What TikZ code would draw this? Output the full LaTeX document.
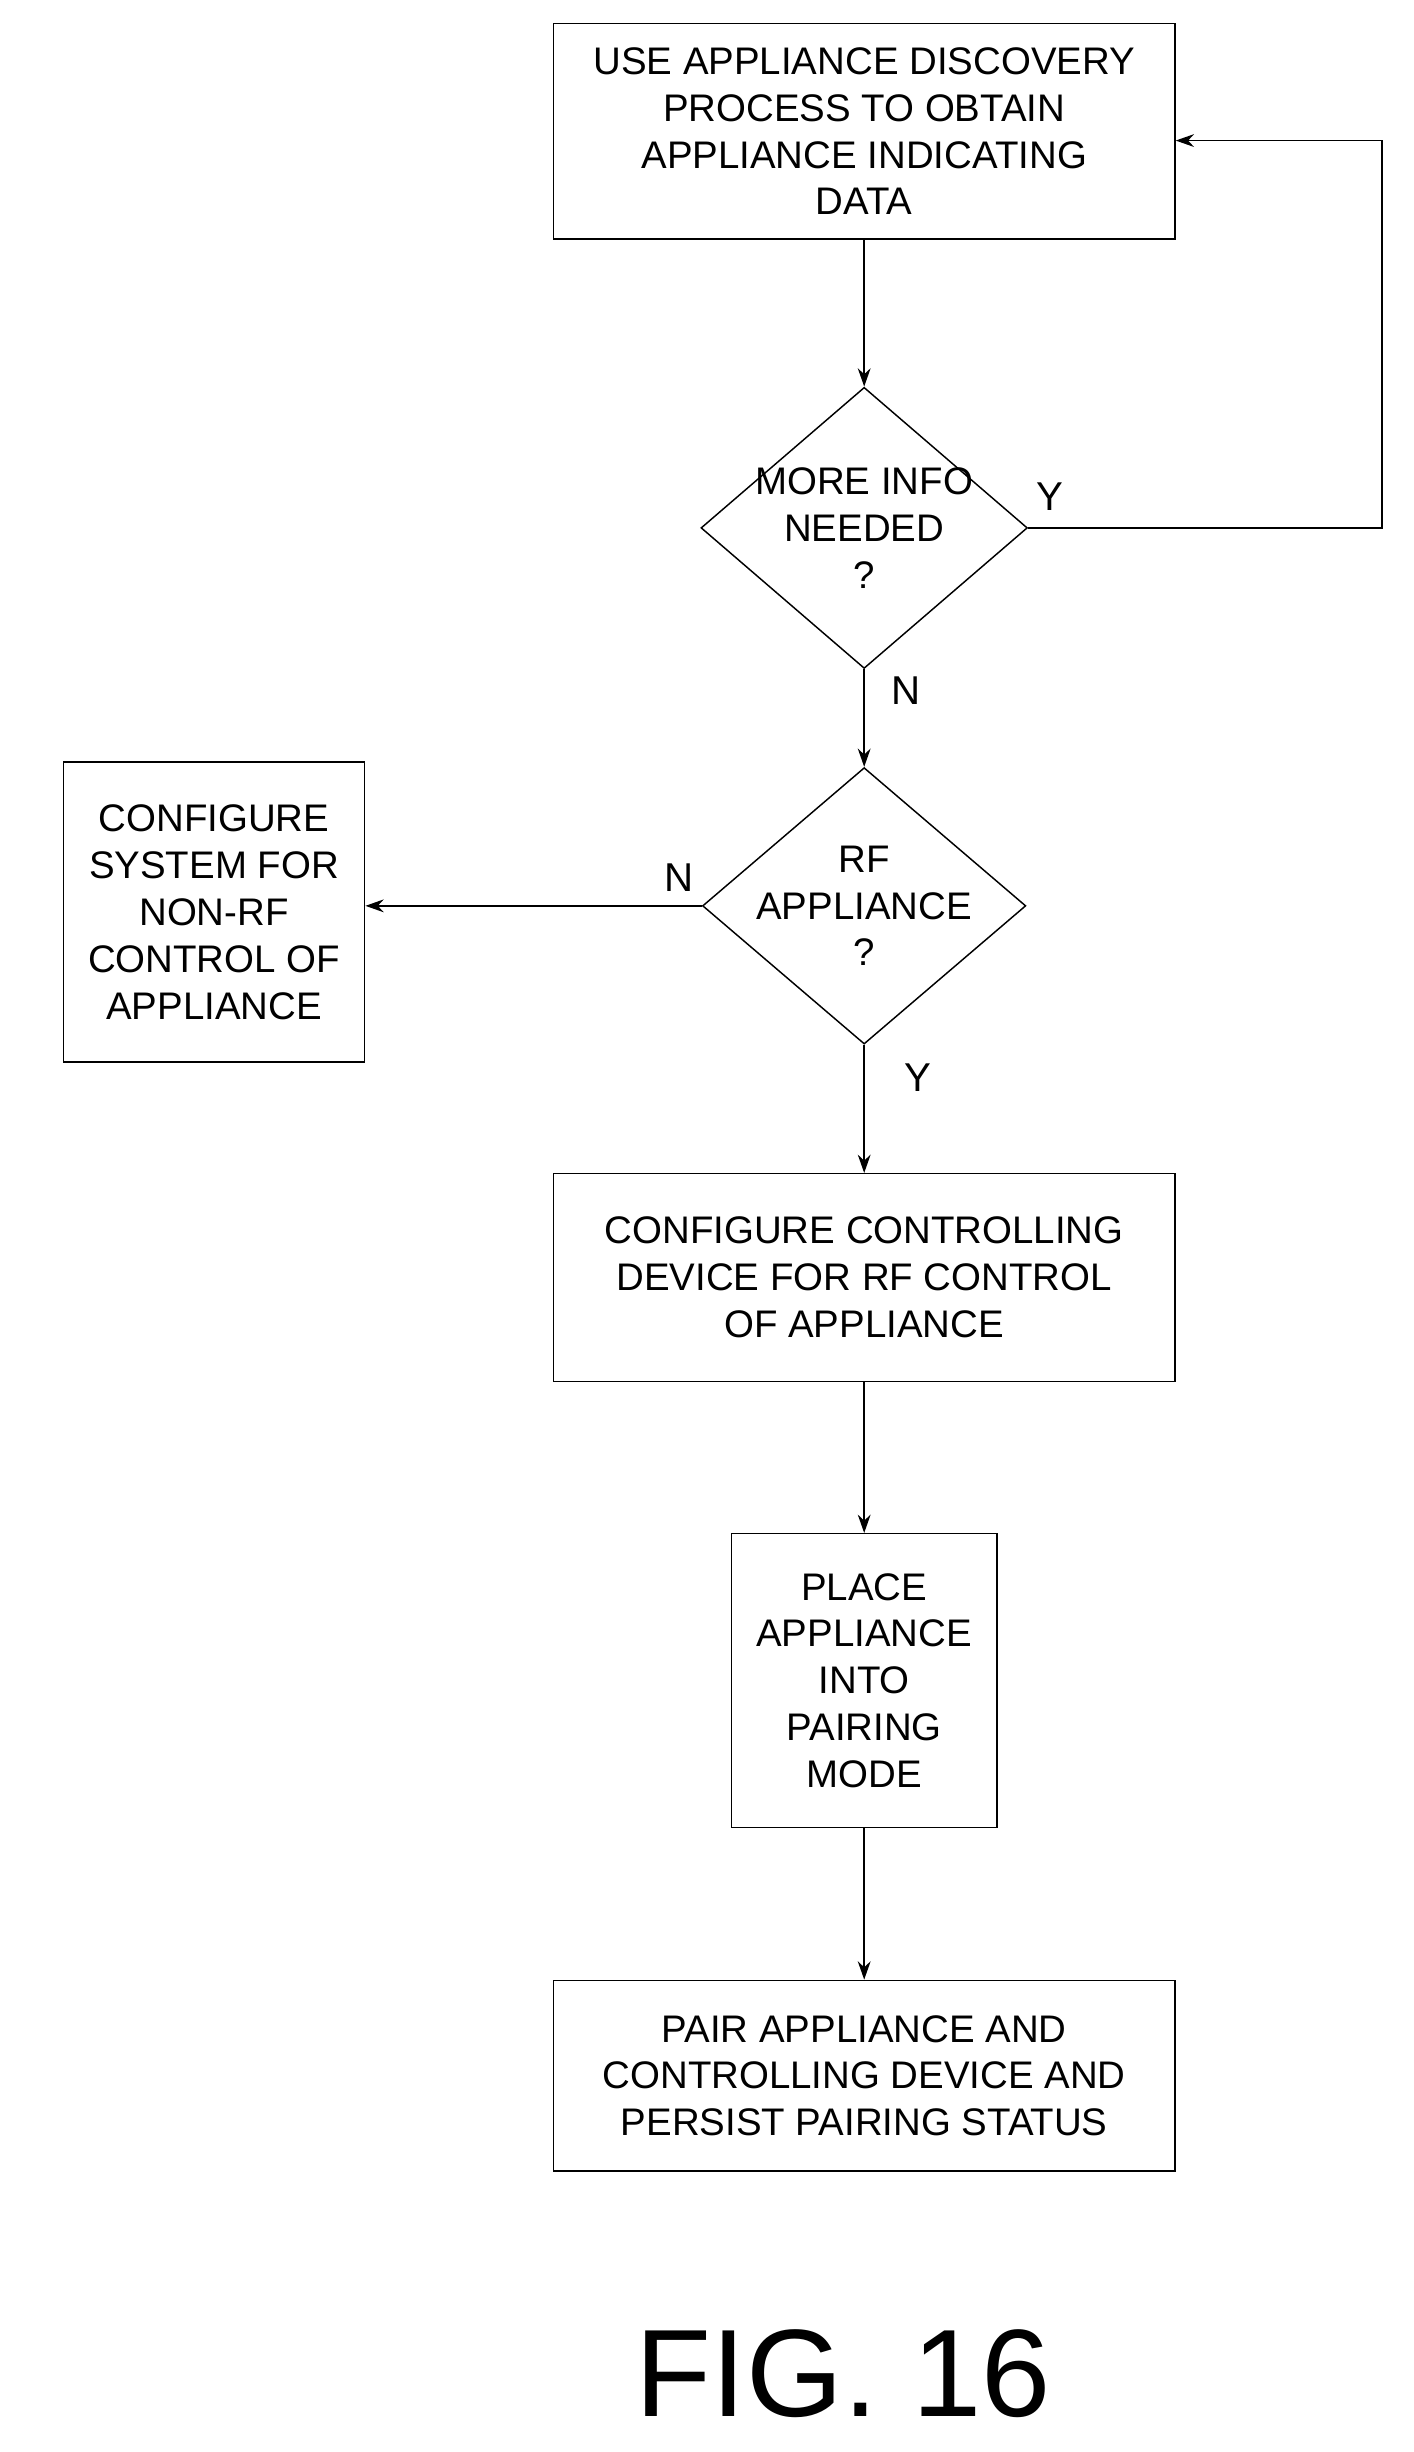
\documentclass[tikz,border=0pt]{standalone}
\usepackage{fontspec}
\setmainfont{Liberation Sans}
\usetikzlibrary{shapes.geometric,positioning,arrows.meta}
\begin{document}
\begin{tikzpicture}[
  box/.style={draw, thick, align=center, inner sep=2pt, font=\fontsize{21}{25.6}\selectfont},
  dec/.style={draw, thick, diamond, align=center, inner sep=-14pt, font=\fontsize{21}{25.6}\selectfont},
  lab/.style={font=\fontsize{22}{25.6}\selectfont},
  arr/.style={thick, -{Stealth[length=10pt,width=7pt]}}]
  \useasboundingbox (0,0) rectangle (27.15,-47.1);

  \node(B1)[box, minimum width=11.94cm, minimum height=4.14cm] at (16.6,-2.52) {USE APPLIANCE DISCOVERY\\PROCESS TO OBTAIN\\APPLIANCE INDICATING\\DATA};
  \node(D1)[dec, minimum width=6.27cm, minimum height=5.4cm] at (16.6,-10.14) {MORE INFO\\NEEDED\\?};
  \node(D2)[dec, minimum width=6.21cm, minimum height=5.31cm] at (16.6,-17.4) {RF\\APPLIANCE\\?};
  \node(NRF)[box, minimum width=5.79cm, minimum height=5.76cm] at (4.11,-17.52) {CONFIGURE\\SYSTEM FOR\\NON-RF\\CONTROL OF\\APPLIANCE};
  \node(B3)[box, minimum width=11.94cm, minimum height=3.99cm] at (16.6,-24.54) {CONFIGURE CONTROLLING\\DEVICE FOR RF CONTROL\\OF APPLIANCE};
  \node(B4)[box, minimum width=5.1cm, minimum height=5.64cm] at (16.6,-32.28) {PLACE\\APPLIANCE\\INTO\\PAIRING\\MODE};
  \node(B5)[box, minimum width=11.94cm, minimum height=3.66cm] at (16.6,-39.87) {PAIR APPLIANCE AND\\CONTROLLING DEVICE AND\\PERSIST PAIRING STATUS};
  \node(FIG) at (16.2,-45.6) {\fontsize{68}{80}\selectfont FIG. 16};

  \coordinate(L1) at (26.55,-10.14);
  \coordinate(L2) at (26.55,-2.7);
  \draw[arr] (B1) -- (D1);
  \draw[arr] (D1.east) -- (L1) -- (L2) -- ([yshift=-0.18cm]B1.east);
  \draw[arr] (D1) -- (D2);
  \draw[arr] (D2.west) -- (NRF.east |- D2.west);
  \draw[arr] (D2) -- (B3);
  \draw[arr] (B3) -- (B4);
  \draw[arr] (B4) -- (B5);

  \node(LY1)[lab] at (20.16,-9.54) {Y};
  \node(LN1)[lab] at (17.4,-13.26) {N};
  \node(LN2)[lab] at (13.05,-16.86) {N};
  \node(LY2)[lab] at (17.64,-20.7) {Y};
\end{tikzpicture}
\end{document}
